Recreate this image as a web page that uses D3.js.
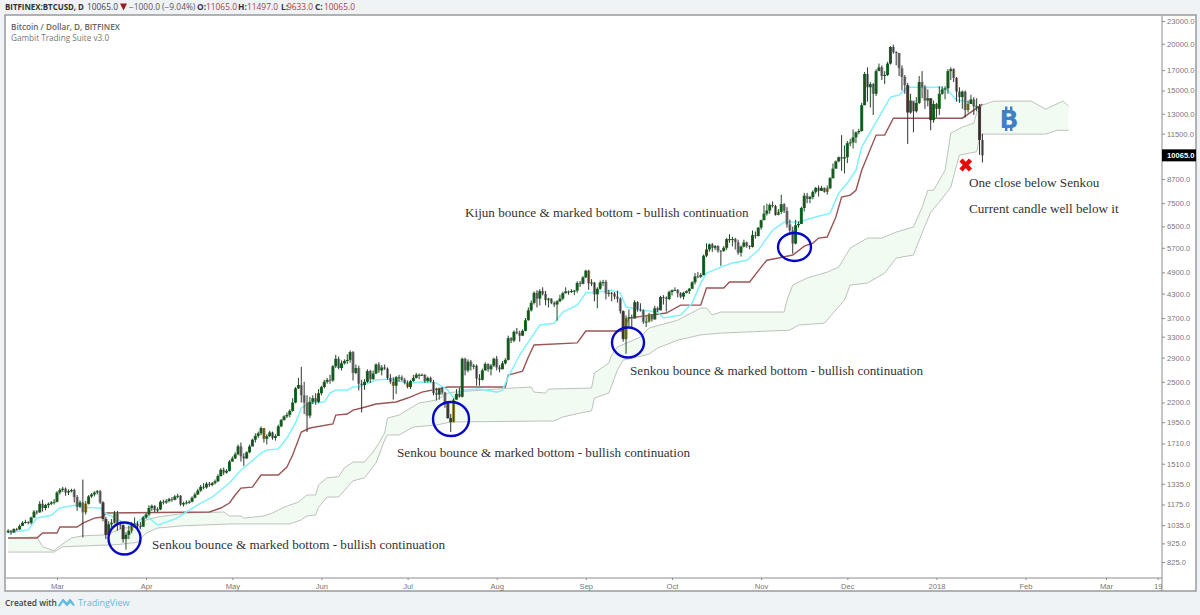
<!DOCTYPE html>
<html>
<head>
<meta charset="utf-8">
<title>BTCUSD</title>
<script src="https://cdnjs.cloudflare.com/ajax/libs/d3/7.8.5/d3.min.js"></script>
<style>
  html, body { margin: 0; padding: 0; background: #eff3f6; overflow: hidden; }
  svg { display: block; }
</style>
</head>
<body>
<div id="my_dataviz"></div>
<script>
// first candle of the chart, day numbers below count from here
const firstDay = "2017-02-12";
const firstOpen = 990;

// daily closes, one row per month
const closes = [
  1000,990,1010,1008,1030,1050,1055,1050,1085,1125,1120,1180,1150,1170,1180,1190,1195,
  1265,1285,1295,1265,1275,1285,1230,1160,1190,1120,1180,1235,1250,1265,1275,1190,1075,975,1040,1050,1120,1040,1035,950,975,1000,1040,1045,1030,1025,1085,
  1105,1150,1165,1135,1140,1195,1190,1200,1215,1210,1235,1240,1175,1185,1190,1195,1225,1250,1280,1310,1305,1335,1325,1340,1355,1400,1455,1430,1445,1530,
  1560,1600,1680,1580,1560,1620,1680,1750,1790,1820,1880,1760,1790,1830,1770,1790,1900,1975,2020,2040,2090,2200,2400,2450,2300,2200,2030,2210,2260,2210,2330,
  2420,2500,2530,2520,2750,2880,2720,2800,2840,2860,3000,2640,2720,2470,2450,2500,2670,2540,2630,2780,2680,2730,2710,2560,2500,2440,2570,2570,2530,2480,
  2420,2510,2560,2610,2610,2610,2510,2560,2500,2330,2310,2390,2340,2190,2000,1950,2240,2320,2280,2880,2680,2830,2750,2760,2550,2530,2680,2790,2700,2760,2880,
  2730,2700,2800,2860,3270,3220,3400,3370,3320,3420,3650,3880,4060,4320,4170,4370,4290,4130,4170,4060,4020,4100,4170,4310,4360,4340,4370,4380,4590,4570,4750,
  4950,4580,4600,4280,4430,4600,4620,4300,4320,4300,4220,4170,3860,3250,3700,3720,3690,4080,3900,3880,3620,3620,3780,3670,3930,3880,4210,4190,4160,4340,
  4390,4400,4310,4220,4320,4365,4430,4610,4780,4770,4820,5430,5640,5820,5700,5760,5600,5590,5700,6010,6010,6020,5900,5530,5740,5890,5770,5730,6160,6130,6450,
  6750,7030,7170,7420,7370,6970,7110,7450,7150,6580,6340,5850,6550,6600,7280,7850,7700,7790,8040,8240,8090,8240,8040,8220,8750,9270,9700,9950,9870,9950,
  10850,10900,11240,11600,11690,13700,16600,15300,15600,14700,16900,17300,16400,16500,17700,19600,19000,18900,17200,16300,15500,13100,14100,13200,13900,15800,15300,14100,14300,12500,13800,
  13400,14700,15100,15200,16900,17100,16200,14900,14400,14900,13300,13800,14200,13600,13600,11065,10065
];
const highs = [
  1010,1005,1015,1018,1040,1060,1070,1060,1090,1135,1135,1200,1210,1180,1190,1200,1215,
  1275,1300,1310,1305,1290,1295,1295,1245,1205,1370,1200,1245,1260,1275,1285,1285,1200,1090,1060,1075,1130,1130,1060,1040,990,1030,1055,1085,1060,1055,1095,
  1115,1170,1175,1170,1155,1205,1210,1215,1225,1230,1245,1255,1245,1195,1205,1205,1235,1265,1295,1325,1340,1350,1350,1350,1370,1415,1470,1475,1460,1545,
  1580,1620,1700,1720,1610,1630,1700,1760,1820,1840,1900,1880,1810,1850,1840,1810,1920,1990,2035,2070,2110,2260,2420,2560,2740,2500,2300,2280,2300,2330,2390,
  2440,2530,2560,2610,2770,2950,2920,2850,2870,2960,3030,3020,2780,2760,2530,2540,2700,2690,2680,2800,2820,2770,2780,2730,2620,2570,2590,2610,2600,2560,
  2520,2530,2610,2640,2630,2630,2620,2580,2580,2530,2410,2410,2420,2350,2210,2050,2260,2390,2410,2900,2900,2870,2860,2790,2780,2620,2710,2820,2800,2790,2900,
  2930,2770,2840,2890,3320,3290,3430,3480,3420,3450,3700,3950,4120,4360,4390,4420,4470,4370,4190,4180,4100,4130,4270,4350,4470,4380,4420,4400,4640,4650,4790,
  4980,4980,4700,4620,4470,4660,4680,4680,4400,4350,4340,4380,4200,3880,3760,3900,3780,4130,4100,4050,3900,3740,3820,3790,3990,3970,4240,4260,4230,4380,
  4410,4470,4420,4340,4350,4390,4450,4640,4880,4910,4880,5470,5860,5850,5870,5800,5790,5620,5760,6060,6200,6100,6060,5990,5780,5990,5920,5790,6340,6300,6470,
  6780,7400,7480,7490,7580,7420,7230,7900,7500,7320,6780,6490,6770,6710,7340,7990,7990,7850,8120,8280,8370,8340,8260,8360,8800,9570,9750,9990,11400,10700,
  11000,11150,11800,11650,11850,13900,16800,17300,15800,15700,17100,17700,17500,16900,17900,19700,19890,19100,18900,17500,16500,15700,14700,14000,14400,16400,16900,15500,15100,14300,14100,
  13900,15400,15400,15400,17100,17300,17200,16300,15300,15000,15000,14100,14600,14400,14300,13800,11497
];
const lows = [
  985,975,985,1000,1005,1030,1045,1040,1040,1080,1105,1115,1125,1135,1150,1170,1175,
  1190,1250,1270,1240,1245,1265,1190,1130,1150,960,1105,1175,1225,1235,1250,1180,1060,950,965,1020,1045,1000,1010,930,890,950,985,1020,1010,1010,1025,
  1075,1095,1130,1120,1120,1135,1175,1180,1190,1195,1205,1220,1165,1160,1175,1180,1190,1220,1245,1270,1290,1295,1310,1315,1330,1350,1395,1410,1420,1440,
  1530,1555,1590,1530,1490,1555,1610,1680,1720,1770,1800,1720,1700,1780,1750,1740,1790,1890,1970,2000,2010,2080,2190,2390,2200,2050,1835,2000,2180,2170,2190,
  2300,2400,2470,2470,2500,2720,2700,2680,2780,2790,2810,2520,2620,2370,2070,2380,2480,2480,2530,2620,2640,2600,2690,2530,2470,2240,2320,2500,2510,2460,
  2400,2390,2500,2550,2540,2590,2480,2490,2490,2300,2230,2240,2310,2130,1990,1835,1950,2240,2270,2270,2600,2650,2680,2700,2440,2440,2520,2680,2660,2600,2740,
  2680,2650,2700,2780,2850,3170,3190,3350,3200,3310,3410,3640,3850,4020,3950,4000,4250,4000,3950,4030,3960,3640,4080,4130,4300,4270,4320,4260,4320,4480,4550,
  4730,4400,4500,4100,3930,4400,4510,4150,4220,4100,4150,4070,3800,3200,2970,3500,3500,3690,3850,3850,3570,3500,3600,3620,3660,3840,3880,4020,3850,4130,
  4250,4370,4200,4180,4150,4300,4290,4420,4550,4730,4730,4810,5380,5560,5560,5620,5530,5100,5560,5630,5880,5750,5640,5460,5400,5710,5700,5650,5710,6030,6110,
  6370,6960,6950,7030,7300,6950,6960,7020,7060,6450,6200,5500,5820,6450,6590,7120,7500,7500,7680,7950,7810,8080,8000,7900,8170,8720,9300,9650,9150,9000,
  9600,10650,10500,10850,11450,11650,13700,14000,13500,12900,14500,16900,16000,15600,16400,17600,18800,17500,16400,15000,14700,10800,13000,11600,13100,13800,14300,13400,13600,11750,12300,
  12700,12900,14600,14200,14700,16000,15800,14000,13900,13400,12700,13100,13800,12900,13200,10100,9633
];

// days painted in the script's other candle colours
const oliveDays = ["2017-03-11","2017-03-21","2017-03-27","2017-07-17","2017-09-15","2017-09-23","2017-11-07","2018-01-01","2018-01-12"];
const orangeDays = ["2017-05-12","2017-06-26","2017-07-01","2017-08-19","2017-09-02","2017-11-24","2018-01-08"];
const purpleDays = ["2017-12-23"];
const darkDays = ["2017-03-17","2017-03-18","2017-03-24","2017-07-15","2017-07-16","2017-09-14","2017-12-22","2017-12-30","2018-01-16"];

// Tenkan (cyan)
const tenkanDays = [0,7,10,15,18,23,26,32,33,43,48,52,59,62,67,71,77,81,84,88,90,94,97,100,102,105,110,112,114,118,120,122,128,133,139,144,149,153,155,158,164,170,172,174,178,181,185,190,193,198,201,205,210,213,215,221,226,228,234,238,241,243,248,252,257,261,266,270,275,281,286,289,292,295,297,303,307,310,313,324,327,330,335,337];
const tenkanValues = [987,1005,1082,1100,1150,1170,1155,1150,1123,1025,1100,1035,1082,1123,1185,1230,1341,1453,1516,1613,1643,1653,1768,1940,2127,2194,2207,2332,2375,2375,2420,2420,2526,2543,2481,2496,2481,2375,2262,2375,2390,2346,2375,2574,2947,3192,3544,3584,3839,4007,4314,4341,4392,4314,3958,3884,3839,3700,3770,4057,4589,4879,5062,5190,5281,5615,6350,6678,6678,6886,7054,7978,8487,9181,10590,12730,14400,14580,15310,15310,15011,14141,13966,13538];

// Kijun (dark red)
const kijunDays = [0,10,12,17,18,24,26,30,33,34,70,74,77,79,81,85,88,94,97,99,102,105,113,114,118,120,123,128,135,139,144,153,173,174,179,181,183,198,201,214,216,229,234,241,243,249,251,258,262,264,268,273,277,280,282,285,288,290,293,295,297,302,305,308,332,339];
const kijunValues = [956,956,986,986,1023,1023,1048,1081,1088,1115,1122,1150,1186,1246,1300,1308,1409,1409,1480,1593,1835,1881,1928,2037,2050,2100,2127,2180,2207,2262,2346,2420,2420,2605,2670,2911,3134,3175,3415,3415,3700,3815,4007,4007,4449,4449,4617,4617,5062,5281,5351,5451,5760,5867,6051,6090,6886,7788,7880,8119,9181,11400,11400,12650,12650,13794];

// Senkou lines, they run on ahead of the last candle
const spanADays = [0,10,12,16,17,22,26,34,40,46,48,52,62,75,77,81,82,89,92,96,101,104,107,108,111,115,117,120,124,127,129,131,132,136,143,149,153,155,175,182,183,187,188,203,204,209,210,212,220,223,233,241,243,245,248,270,271,273,278,285,289,293,299,304,309,315,318,320,322,326,328,332,336,337,339,343,356,361,367,369];
const spanAValues = [956,962,906,883,899,956,969,975,1017,1023,1069,1088,1115,1122,1095,1095,1081,1095,1115,1156,1193,1246,1246,1325,1385,1394,1472,1526,1526,1624,1714,1825,2000,2037,2194,2234,2332,2346,2405,2420,2346,2332,2390,2405,2637,2806,2947,3097,3292,3479,3652,3934,3934,3770,3839,3839,4130,4533,4732,4908,5062,5690,6051,6051,6280,6476,7310,8119,8119,9181,11540,11970,12276,13050,13710,14050,14050,13370,14050,13620];
const spanBDays = [0,16,19,38,45,48,52,56,60,78,98,102,104,107,108,111,115,118,120,124,128,131,132,136,141,149,154,190,193,199,203,204,209,212,214,219,223,226,233,241,248,272,275,284,291,293,299,305,309,315,318,321,324,328,331,337,338,339,361,365,369];
const spanBValues = [877,877,906,918,931,986,1017,1023,1030,1043,1043,1069,1095,1102,1156,1230,1230,1308,1359,1385,1516,1747,1802,1802,1893,1916,1952,1965,2013,2063,2090,2262,2332,2686,2856,2911,2966,3076,3230,3336,3372,3435,3544,3584,4130,4533,4589,4879,5351,5451,6240,7096,7550,8278,10080,10290,11260,11470,11470,11740,11740];

// axis labels
const priceTicks = [23000,20000,17000,15000,13000,11500,8700,7500,6500,5700,4900,4300,3700,3300,2900,2500,2200,1950,1710,1510,1335,1175,1035,925,825];
const timeTicks = ["2017-03-01","2017-04-01","2017-05-01","2017-06-01","2017-07-01","2017-08-01","2017-09-01","2017-10-01","2017-11-01","2017-12-01","2018-01-01","2018-02-01","2018-03-01","2018-03-19"];
const timeLabels = ["Mar","Apr","May","Jun","Jul","Aug","Sep","Oct","Nov","Dec","2018","Feb","Mar","19"];

const W = 1200, H = 615;
const plot = { left: 6, top: 16, right: 1162, bottom: 578 };
const sansFont = "'Liberation Sans', Arial, sans-serif";
const headFont = "'Open Sans', 'Noto Sans', sans-serif";
const serifFont = "'Liberation Serif', 'Times New Roman', serif";

const svg = d3.select("#my_dataviz")
    .append("svg")
    .attr("width", W)
    .attr("height", H);

const parseDay = d3.timeParse("%Y-%m-%d");
const fmtDay = d3.timeFormat("%Y-%m-%d");
const start = parseDay(firstDay);
const dayOf = n => d3.timeDay.offset(start, n);

const x = d3.scaleTime()
    .domain([parseDay("2017-03-01"), parseDay("2018-03-01")])
    .range([57, 1106]);
const y = d3.scaleLog()
    .domain([825, 23000])
    .range([562, 21]);

// white panel with its frame
svg.append("rect")
    .attr("x", 5).attr("y", 15)
    .attr("width", 1191).attr("height", 576)
    .attr("fill", "#fff")
    .attr("stroke", "#9a9a9a")
    .attr("stroke-width", 1.5);

svg.append("clipPath").attr("id", "plotClip")
    .append("rect")
    .attr("x", plot.left).attr("y", plot.top)
    .attr("width", plot.right - plot.left).attr("height", plot.bottom - plot.top);

const chart = svg.append("g").attr("clip-path", "url(#plotClip)");

// cloud
const spanA = spanADays.map((d, i) => ({ day: dayOf(d), v: spanAValues[i] }));
const spanB = spanBDays.map((d, i) => ({ day: dayOf(d), v: spanBValues[i] }));
const line = d3.line().x(d => x(d.day)).y(d => y(d.v));

chart.append("path")
    .attr("d", line(spanA.concat(spanB.slice().reverse())) + "Z")
    .attr("fill", "#f2fbf2");
[spanA, spanB].forEach(s => {
    chart.append("path")
        .attr("d", line(s))
        .attr("fill", "none")
        .attr("stroke", "#bcc2bc")
        .attr("stroke-width", 1);
});

// Kijun and Tenkan sit under the candles
const kijun = kijunDays.map((d, i) => ({ day: dayOf(d), v: kijunValues[i] }));
const tenkan = tenkanDays.map((d, i) => ({ day: dayOf(d), v: tenkanValues[i] }));
chart.append("path")
    .attr("d", line(kijun))
    .attr("fill", "none")
    .attr("stroke", "#9a5555")
    .attr("stroke-width", 1.4);
chart.append("path")
    .attr("d", line(tenkan))
    .attr("fill", "none")
    .attr("stroke", "#80f2fa")
    .attr("stroke-width", 1.5);

// candles
const candles = closes.map((c, i) => ({
    day: dayOf(i),
    open: i === 0 ? firstOpen : closes[i - 1],
    close: c,
    high: highs[i],
    low: lows[i]
}));
const bodyColor = d => {
    const key = fmtDay(d.day);
    if (purpleDays.includes(key)) return "#8e3a94";
    if (oliveDays.includes(key)) return "#8f8a2c";
    if (orangeDays.includes(key)) return "#b0813a";
    if (darkDays.includes(key)) return "#4a3c3c";
    return d.close >= d.open ? "#14691f" : "#8f8f8f";
};
const bodyW = 3;

chart.selectAll(".body")
    .data(candles)
    .join("rect")
    .attr("class", "body")
    .attr("x", d => x(d.day) - bodyW / 2)
    .attr("y", d => y(Math.max(d.open, d.close)))
    .attr("width", bodyW)
    .attr("height", d => Math.max(1, Math.abs(y(d.open) - y(d.close))))
    .attr("fill", bodyColor);

chart.selectAll(".wick")
    .data(candles)
    .join("line")
    .attr("class", "wick")
    .attr("x1", d => x(d.day))
    .attr("x2", d => x(d.day))
    .attr("y1", d => y(d.high))
    .attr("y2", d => y(d.low))
    .attr("stroke", d => d.close >= d.open ? "#1f4a26" : "#333")
    .attr("stroke-width", 1);

// price axis
const yAxis = svg.append("g")
    .attr("transform", `translate(${plot.right},0)`)
    .call(d3.axisRight(y)
        .tickValues(priceTicks)
        .tickFormat(d3.format(".1f"))
        .tickSize(3)
        .tickPadding(2));
yAxis.select(".domain")
    .attr("d", `M0,${plot.top}V591`)
    .attr("stroke", "#8c8c8c");
yAxis.selectAll("line").attr("stroke", "#8c8c8c");
yAxis.selectAll("text")
    .style("font-family", sansFont)
    .style("font-size", "7.6px")
    .attr("fill", "#777");

// last price marker
svg.append("rect")
    .attr("x", plot.right).attr("y", y(10065) - 6)
    .attr("width", 34).attr("height", 12)
    .attr("fill", "#000");
svg.append("text")
    .attr("x", 1167).attr("y", y(10065) + 3)
    .attr("fill", "#fff")
    .style("font-family", sansFont)
    .style("font-size", "7.6px")
    .style("font-weight", "bold")
    .text("10065.0");

// time axis, the last label gets cut by the price axis
const xAxis = svg.append("g")
    .attr("transform", `translate(0,${plot.bottom})`)
    .attr("clip-path", "url(#timeClip)")
    .call(d3.axisBottom(x)
        .tickValues(timeTicks.map(parseDay))
        .tickFormat((d, i) => timeLabels[i])
        .tickSize(2)
        .tickPadding(4));
svg.append("clipPath").attr("id", "timeClip")
    .append("rect")
    .attr("x", 5).attr("y", -5)
    .attr("width", plot.right - 5).attr("height", 20);
xAxis.select(".domain")
    .attr("d", `M6,0H${plot.right}`)
    .attr("stroke", "#8c8c8c");
xAxis.selectAll("line").attr("stroke", "#8c8c8c");
xAxis.selectAll("text")
    .style("font-family", sansFont)
    .style("font-size", "7.6px")
    .attr("fill", "#777");

// header line
const header = [
    { t: "BITFINEX:BTCUSD, D", x: 5, c: "#333", b: 700, s: 7.9 },
    { t: "10065.0", x: 87, c: "#444", b: 400, s: 8.4 },
    { t: "\u22121000.0 (\u22129.04%)", x: 129, c: "#555", b: 400, s: 8.4 },
    { t: "O:", x: 197, c: "#333", b: 700, s: 8.4 },
    { t: "11065.0", x: 206, c: "#a8414a", b: 400, s: 8.4 },
    { t: "H:", x: 238, c: "#333", b: 700, s: 8.4 },
    { t: "11497.0", x: 247, c: "#a8414a", b: 400, s: 8.4 },
    { t: "L:", x: 281, c: "#333", b: 700, s: 8.4 },
    { t: "9633.0", x: 287, c: "#a8414a", b: 400, s: 8.4 },
    { t: "C:", x: 315, c: "#333", b: 700, s: 8.4 },
    { t: "10065.0", x: 324, c: "#a8414a", b: 400, s: 8.4 }
];
svg.selectAll(".head")
    .data(header)
    .join("text")
    .attr("class", "head")
    .attr("x", d => d.x)
    .attr("y", 10)
    .attr("fill", d => d.c)
    .style("font-family", headFont)
    .style("font-size", d => d.s + "px")
    .style("font-weight", d => d.b)
    .text(d => d.t);
svg.append("path")
    .attr("d", "M120,3.5H127L123.5,10.5Z")
    .attr("fill", "#9c1c1c");

// study titles
svg.append("text")
    .attr("x", 11).attr("y", 30)
    .attr("fill", "#666")
    .style("font-family", headFont)
    .style("font-size", "8.2px")
    .style("font-weight", 600)
    .text("Bitcoin / Dollar, D, BITFINEX");
svg.append("text")
    .attr("x", 11).attr("y", 41)
    .attr("fill", "#777")
    .style("font-family", headFont)
    .style("font-size", "8.2px")
    .text("Gambit Trading Suite v3.0");

// drawn on top: notes
const notes = [
    { t: "Senkou bounce & marked bottom - bullish continuation", x: 152, y: 549 },
    { t: "Senkou bounce & marked bottom - bullish continuation", x: 397, y: 457 },
    { t: "Senkou bounce & marked bottom - bullish continuation", x: 630, y: 375 },
    { t: "Kijun bounce & marked bottom - bullish continuation", x: 465, y: 217 },
    { t: "One close below Senkou", x: 969, y: 187 },
    { t: "Current candle well below it", x: 969, y: 213 }
];
svg.selectAll(".note")
    .data(notes)
    .join("text")
    .attr("class", "note")
    .attr("x", d => d.x)
    .attr("y", d => d.y)
    .attr("fill", "#333")
    .style("font-family", serifFont)
    .style("font-size", "13.15px")
    .text(d => d.t);

const rings = [
    { x: 124.5, y: 538.5, rx: 16, ry: 16 },
    { x: 451, y: 419, rx: 18, ry: 17 },
    { x: 628, y: 342.5, rx: 16, ry: 15 },
    { x: 794.5, y: 247, rx: 16.5, ry: 14 }
];
svg.selectAll(".ring")
    .data(rings)
    .join("ellipse")
    .attr("class", "ring")
    .attr("cx", d => d.x)
    .attr("cy", d => d.y)
    .attr("rx", d => d.rx)
    .attr("ry", d => d.ry)
    .attr("fill", "none")
    .attr("stroke", "#0808c4")
    .attr("stroke-width", 2.4);

// red cross
svg.append("path")
    .attr("d", "M961,160L970.5,170M970.5,160L961,170")
    .attr("stroke", "#e60a0a")
    .attr("stroke-width", 4.4)
    .attr("fill", "none");

// bitcoin sign
const coin = svg.append("g").attr("fill", "#3f80c4");
coin.append("text")
    .attr("x", 1009).attr("y", 127.5)
    .attr("text-anchor", "middle")
    .style("font-family", "'DejaVu Sans', sans-serif")
    .style("font-size", "25px")
    .style("font-weight", "bold")
    .text("B");
[1005, 1010].forEach(bx => {
    coin.append("rect").attr("x", bx).attr("y", 106.5).attr("width", 2.4).attr("height", 4);
    coin.append("rect").attr("x", bx).attr("y", 127).attr("width", 2.4).attr("height", 4);
});

// footer
svg.append("text")
    .attr("x", 5).attr("y", 606)
    .attr("fill", "#444")
    .style("font-family", headFont)
    .style("font-size", "8.4px")
    .style("font-weight", 600)
    .text("Created with");
svg.append("path")
    .attr("d", "M58,606L63,599L67,603L70,599L74,604L74,606L70,602.5L67,606L63,601.5L60,606Z")
    .attr("fill", "#62b8e0")
    .attr("stroke", "#62b8e0")
    .attr("stroke-width", 0.8);
svg.append("text")
    .attr("x", 78).attr("y", 606)
    .attr("fill", "#62b8e0")
    .style("font-family", headFont)
    .style("font-size", "9px")
    .text("TradingView");
</script>
</body>
</html>
